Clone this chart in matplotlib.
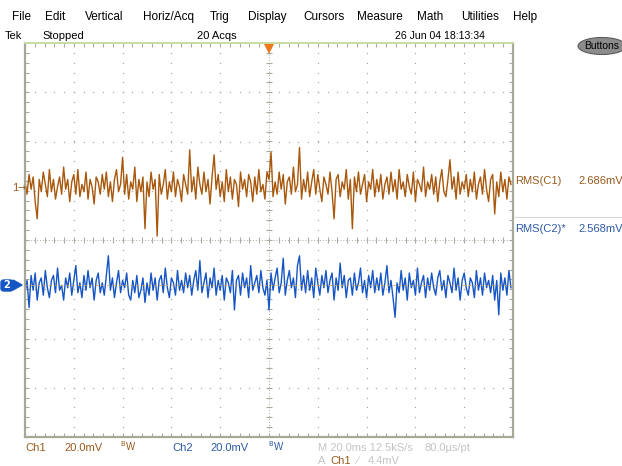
import numpy as np
import matplotlib.pyplot as plt
from matplotlib.patches import Ellipse, FancyBboxPatch

# scope settings
volts_per_div = 20.0      # mV/div, both channels
time_per_div = 20.0       # ms/div
ch1_pos = 1.08            # div
ch2_pos = -0.92           # div

# sampled traces (mV around each channel's position)
ch1_mv = [
    2, -3, 5, -1, 4, -6, -13, 3, -2, 6, 1, -4, 7, -2, 3, -5, 0, 4, -3, 8,
    -1, 3, -6, 2, 5, -3, 7, -4, 1, -2, 6, -5, 3, 0, -7, 4, 2, -3, 5, -1,
    6, -4, 2, -6, 3, 7, -2, 1, 12, -3, 5, -5, 2, -1, 8, -6, 3, -2, 4, -17,
    2, -4, 6, -1, 3, -20, 5, -3, 1, 7, -5, 2, -2, 6, -4, 3, 0, -6, 5, 1,
    -3, 15, -2, 4, -5, 8, 1, -3, 6, -2, 3, -7, 4, 13, -1, 5, -4, 2, -6, 7,
    -2, 4, -5, 3, 1, -8, 6, -1, 3, -4, 5, 2, -6, 4, -3, 7, -2, 1, -5, 6,
    3, 14, -4, 2, -3, 6, -1, 5, -7, 2, 4, -3, 8, -2, 1, 16, -5, 3, -2, 6,
    -4, 2, 7, -3, 5, -1, -6, 4, 1, -3, 6, -2, -13, 3, 5, -4, 2, -1, 7, -5,
    3, -17, 4, -2, 6, -3, 1, 5, -6, 2, -1, 7, -4, 3, -2, 5, -5, 1, 4, -3,
    6, -2, 3, -5, 7, -1, 2, -4, 5, 0, -3, 6, -6, 3, 1, -2, 8, -4, 2, -1,
    5, -3, 4, -6, 2, 7, -2, -4, 3, 11, -1, 4, -5, 6, -3, 2, -1, 5, -4, 3,
    -2, 6, -5, 1, 4, -3, 7, -1, -6, 3, 5, -11, 2, -4, 6, -2, 3, -5, 4, 1,
]
ch2_mv = [
    -3, 2, -9, 4, -2, 5, -6, 1, 3, -4, 6, -1, -5, 2, 4, -3, 7, -2, 0, -6,
    3, -1, 5, -4, 2, 8, -3, 1, -5, 4, -2, 6, -1, 3, -6, 2, 5, -3, 1, -4,
    4, 12, -2, 3, -5, 1, 6, -3, 2, -1, 5, -4, -6, 2, -3, 4, -5, -2, 3, -7,
    1, -4, 5, -2, 3, -6, 2, 4, -3, 7, -1, -5, 3, 1, -4, 6, -2, 2, -3, 5,
    -1, 4, -4, 2, 6, -2, 10, -3, 1, 5, -5, 3, -1, 7, -4, 2, -2, 4, -6, 3,
    1, -3, 6, -10, 2, 4, -4, 5, -1, 3, -5, 8, -2, 1, 4, -3, 6, -1, -4, 2,
    -10, 5, -2, 3, 7, -3, 1, 11, -4, 2, 6, -1, 3, -5, 8, 12, -2, 4, -3, 6,
    -2, 3, -5, 7, 1, -4, 4, -1, 6, -3, 2, 5, -6, 3, -2, 9, -1, 4, -5, 2,
    3, -4, 5, -2, 1, 7, -3, 2, -5, 4, -1, 6, -3, 3, -2, 5, -4, 1, 8, -3,
    2, -5, -13, 1, -3, 6, -2, 3, -6, 5, -1, 2, -4, 7, -3, 1, 4, -5, 3, -2,
    5, -1, -4, 3, 6, -2, 2, -5, 4, 1, -3, 7, -2, 3, -6, 2, 5, -1, -4, 3,
    1, -5, 6, -2, 3, -4, 5, -1, 2, -3, 4, -6, 2, -12, 5, -2, 3, -4, 6, -1,
]

menu_items = ['File', 'Edit', 'Vertical', 'Horiz/Acq', 'Trig', 'Display',
              'Cursors', 'Measure', 'Math', 'Utilities', 'Help']
menu_x = [12, 45, 85, 143, 210, 248, 303, 357, 417, 461, 513]

W, H = 622, 466
BROWN = '#a8580c'
BLUE = '#1656c4'
TXT_BROWN = '#9a5a1e'
TXT_BLUE = '#2c5aa6'
GRID = '#aaaaa0'
NARROW = ['Liberation Sans Narrow', 'Liberation Sans', 'DejaVu Sans']
WIDE = ['Liberation Sans', 'DejaVu Sans']

fig = plt.figure(figsize=(W / 100, H / 100), dpi=100)
fig.patch.set_facecolor('white')


def px(x, y):
    return x / W, 1 - y / H


def label(x, y, s, color='black', size=8, family=NARROW, **kw):
    fx, fy = px(x, y)
    fig.text(fx, fy, s, color=color, fontsize=size, va='center', ha='left',
             family=family, **kw)


# graticule area
left, top, right, bottom = 25, 43, 513, 437
ax = fig.add_axes([left / W, 1 - bottom / H, (right - left) / W, (bottom - top) / H])
ax.set_xlim(0, 10)
ax.set_ylim(-4, 4)
ax.set_xticks([])
ax.set_yticks([])
ax.set_xticks(np.arange(0, 10.01, 0.2), minor=True)
ax.set_yticks(np.arange(-4, 4.01, 0.2), minor=True)
ax.tick_params(which='minor', direction='in', length=3, width=0.8, color=GRID,
               top=True, right=True, labelbottom=False, labelleft=False)
for side in ['left', 'bottom', 'right']:
    ax.spines[side].set_color('#a8a898')
    ax.spines[side].set_linewidth(1.6)
ax.spines['top'].set_color('#c8dca0')
ax.spines['top'].set_linewidth(1.4)

# dotted grid
minor_x = np.arange(0, 10.01, 0.2)
minor_y = np.arange(-4, 4.01, 0.2)
for xv in range(1, 10):
    if xv == 5:
        continue
    ax.plot(np.full_like(minor_y, xv), minor_y, ls='none', marker='s', ms=0.9,
            mew=0, color=GRID)
for yv in range(-3, 4):
    if yv == 0:
        continue
    ax.plot(minor_x, np.full_like(minor_x, yv), ls='none', marker='s', ms=0.9,
            mew=0, color=GRID)
# centre cross with minor ticks
ax.plot([5, 5], [-4, 4], ls=(0, (1, 2)), lw=0.7, color=GRID)
ax.plot([0, 10], [0, 0], ls=(0, (1, 2)), lw=0.7, color=GRID)
ax.plot(np.full_like(minor_y, 5), minor_y, ls='none', marker='_', ms=4, mew=0.8, color=GRID)
ax.plot(minor_x, np.zeros_like(minor_x), ls='none', marker='|', ms=4, mew=0.8, color=GRID)

# traces
t1 = np.arange(len(ch1_mv)) * (10 * time_per_div / len(ch1_mv)) / time_per_div
t2 = np.arange(len(ch2_mv)) * (10 * time_per_div / len(ch2_mv)) / time_per_div
ax.plot(t1, np.array(ch1_mv) / volts_per_div + ch1_pos, color=BROWN, lw=1.0)
ax.plot(t2, np.array(ch2_mv) / volts_per_div + ch2_pos, color=BLUE, lw=1.0)
ax.axhline(ch2_pos, color='#d8a060', lw=0.7, ls=(0, (3, 3)), alpha=0.8)

# trigger position marker
ax.plot(5, 3.88, marker='v', ms=7, color='#ec7a1c', mew=0, clip_on=False)

# channel markers on the left
label(12, 188, '1', color=TXT_BROWN, size=8)
fig.text(*px(18, 188), '\u2192', color=TXT_BROWN, fontsize=7, va='center', ha='left')
box = FancyBboxPatch(px(1, 291), 12 / W, 11 / H, boxstyle='round,pad=0,rounding_size=0.005',
                     transform=fig.transFigure, facecolor=BLUE, edgecolor=BLUE)
fig.patches.append(box)
fig.text(*px(7, 285), '2', color='white', fontsize=7, fontweight='bold',
         va='center', ha='center')
fig.patches.append(plt.Polygon([px(13, 280), px(22, 285), px(13, 290)],
                               closed=True, transform=fig.transFigure, color=BLUE))

# menu bar and status line
for name, x in zip(menu_items, menu_x):
    label(x, 17, name, size=8.5, family=WIDE)
label(5, 36, 'Tek', size=8)
label(42, 36, 'Stopped', size=8)
label(197, 36, '20 Acqs', size=8)
label(395, 36, '26 Jun 04 18:13:34', size=7.6)

ell = Ellipse(px(602, 46), 48 / W, 17 / H, transform=fig.transFigure,
              facecolor='#8c8c8c', edgecolor='#5c5c5c', lw=0.8)
fig.patches.append(ell)
label(584, 46, 'Buttons', size=7.5)

# measurement readouts
label(515, 181, 'RMS(C1)', color=TXT_BROWN, size=8)
label(578, 181, '2.686mV', color=TXT_BROWN, size=8)
fig.add_artist(plt.Line2D([515 / W, 1], [1 - 217 / H, 1 - 217 / H], color='#d8d8d8', lw=0.8))
label(515, 229, 'RMS(C2)*', color=TXT_BLUE, size=8)
label(578, 229, '2.568mV', color=TXT_BLUE, size=8)

# bottom channel settings
label(25, 448, 'Ch1', color=TXT_BROWN, size=8)
label(64, 448, '20.0mV', color=TXT_BROWN, size=8)
label(120, 446, '$^{\\mathsf{B}}$W', color=TXT_BROWN, size=7)
label(172, 448, 'Ch2', color=TXT_BLUE, size=8)
label(210, 448, '20.0mV', color=TXT_BLUE, size=8)
label(268, 446, '$^{\\mathsf{B}}$W', color=TXT_BLUE, size=7)
label(318, 448, 'M 20.0ms 12.5kS/s', color='#c4c4c4', size=8)
label(425, 448, '80.0\u00b5s/pt', color='#c4c4c4', size=8)
label(318, 461, 'A', color='#c4c4c4', size=8)
label(330, 461, 'Ch1', color=TXT_BROWN, size=8)
label(356, 461, '\u2215', color='#c4c4c4', size=8)
label(368, 461, '4.4mV', color='#c4c4c4', size=8)

fig.savefig('out.png', dpi=100, facecolor='white')
